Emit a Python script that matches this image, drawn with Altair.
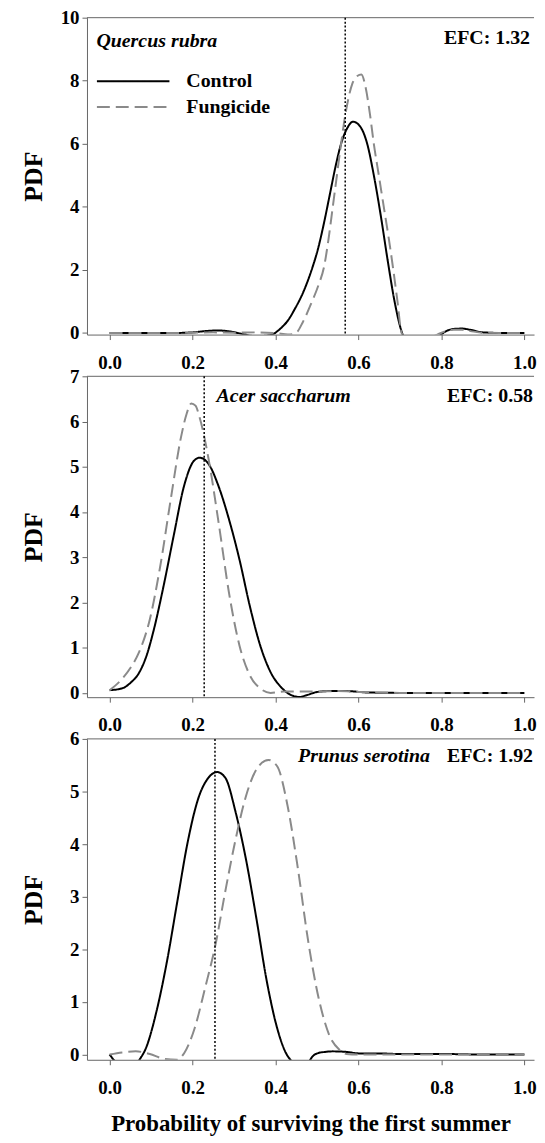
import altair as alt
import pandas as pd

FONT = "Times New Roman, Liberation Serif, DejaVu Serif, serif"

# ---------------- data ----------------
SERIES = ["Control", "Fungicide"]
X_TICKS = [0.0, 0.2, 0.4, 0.6, 0.8, 1.0]

# Quercus rubra
qr_x_ctrl = [0.0, 0.05, 0.10, 0.15, 0.20, 0.23, 0.26, 0.29, 0.32, 0.35, 0.38, 0.395, 0.41, 0.43, 0.446,
             0.467, 0.487, 0.503, 0.517, 0.531, 0.545, 0.558, 0.571, 0.587, 0.604, 0.621, 0.637, 0.654,
             0.671, 0.687, 0.704, 0.72, 0.76, 0.79, 0.81, 0.83, 0.85, 0.87, 0.90, 0.95, 1.0]
qr_y_ctrl = [0.0, 0.0, 0.0, 0.0, 0.02, 0.06, 0.08, 0.05, -0.03, -0.1, -0.08, -0.03, 0.12, 0.4, 0.75,
             1.3, 2.0, 2.7, 3.5, 4.4, 5.3, 6.0, 6.45, 6.7, 6.55, 6.0, 5.0, 3.7,
             2.25, 1.0, 0.05, -0.3, -0.4, -0.15, 0.05, 0.13, 0.14, 0.1, 0.02, 0.0, 0.0]
qr_x_fung = [0.0, 0.05, 0.10, 0.15, 0.20, 0.25, 0.30, 0.35, 0.40, 0.43, 0.449, 0.466, 0.487, 0.503,
             0.517, 0.528, 0.538, 0.548, 0.558, 0.568, 0.585, 0.597, 0.607, 0.617, 0.627, 0.637, 0.649,
             0.661, 0.673, 0.684, 0.694, 0.704, 0.72, 0.76, 0.79, 0.81, 0.83, 0.85, 0.87, 0.90, 0.95, 1.0]
qr_y_fung = [0.0, 0.0, 0.0, 0.0, 0.01, 0.02, 0.01, 0.02, 0.0, -0.05, 0.0, 0.35, 0.97, 1.5,
             2.1, 3.0, 4.0, 5.0, 6.0, 6.9, 7.9, 8.15, 8.2, 7.8, 7.0, 6.0, 5.0,
             4.0, 3.0, 2.0, 1.0, 0.0, -0.2, -0.2, -0.05, 0.06, 0.1, 0.1, 0.06, 0.01, 0.0, 0.0]

# Acer saccharum
as_x_ctrl = [0.0, 0.03, 0.05, 0.072, 0.09, 0.105, 0.13, 0.155, 0.179, 0.204, 0.217, 0.238, 0.263, 0.288,
             0.313, 0.338, 0.363, 0.388, 0.413, 0.438, 0.458, 0.475, 0.50, 0.53, 0.57, 0.62, 0.70, 0.80,
             0.90, 1.0]
as_y_ctrl = [0.06, 0.1, 0.22, 0.46, 0.85, 1.34, 2.36, 3.5, 4.56, 5.14, 5.2, 5.07, 4.56, 3.83,
             2.95, 1.92, 1.05, 0.46, 0.13, -0.05, -0.09, -0.05, 0.02, 0.04, 0.04, 0.01, 0.0, 0.0,
             0.0, 0.0]
as_x_fung = [0.0, 0.03, 0.05, 0.071, 0.097, 0.122, 0.147, 0.172, 0.185, 0.197, 0.207, 0.217, 0.238,
             0.263, 0.288, 0.313, 0.338, 0.363, 0.388, 0.42, 0.46, 0.50, 0.55, 0.60, 0.70, 0.80, 0.90, 1.0]
as_y_fung = [0.06, 0.31, 0.55, 0.9, 1.63, 2.8, 4.26, 5.65, 6.15, 6.4, 6.35, 6.09, 5.2,
             3.75, 2.2, 1.05, 0.39, 0.1, 0.0, 0.03, 0.03, 0.03, 0.04, 0.02, 0.0, 0.0, 0.0, 0.0]

# Prunus serotina
ps_x_ctrl = [0.0, 0.012, 0.04, 0.06, 0.072, 0.088, 0.113, 0.138, 0.163, 0.188, 0.213, 0.238, 0.259,
             0.279, 0.304, 0.329, 0.354, 0.379, 0.404, 0.425, 0.436, 0.45, 0.465, 0.479, 0.49, 0.504,
             0.52, 0.538, 0.571, 0.604, 0.65, 0.7, 0.8, 0.9, 1.0]
ps_y_ctrl = [0.0, -0.12, -0.3, -0.25, -0.1, 0.13, 0.82, 1.76, 2.9, 4.03, 4.85, 5.26, 5.37,
             5.26, 4.6, 3.7, 2.58, 1.39, 0.5, 0.03, -0.1, -0.2, -0.25, -0.15, -0.03, 0.03,
             0.05, 0.06, 0.05, 0.02, 0.02, 0.01, 0.01, 0.0, 0.0]
ps_x_fung = [0.0, 0.03, 0.063, 0.097, 0.13, 0.162, 0.18, 0.205, 0.23, 0.255, 0.28, 0.304, 0.329, 0.354,
             0.383, 0.404, 0.429, 0.454, 0.479, 0.504, 0.529, 0.554, 0.571, 0.6, 0.7, 0.8, 0.9, 1.0]
ps_y_fung = [0.0, 0.04, 0.06, 0.01, -0.08, -0.1, 0.03, 0.5, 1.26, 2.08, 3.15, 4.1, 4.92, 5.42,
             5.6, 5.48, 4.73, 3.53, 2.14, 1.07, 0.38, 0.09, 0.01, 0.0, 0.0, 0.0, 0.0, 0.0]

species = ["Quercus rubra", "Acer saccharum", "Prunus serotina"]
efc_labels = ["EFC: 1.32", "EFC: 0.58", "EFC: 1.92"]
vlines = [0.568, 0.228, 0.254]
y_max = [10, 7, 6]
y_min = [-0.05, -0.095, -0.1]
y_ticks = [[0, 2, 4, 6, 8, 10], [0, 1, 2, 3, 4, 5, 6, 7], [0, 1, 2, 3, 4, 5, 6]]

# ---------------- layout ----------------
W = 450
X_DOMAIN = [-0.0546, 1.0232]
HEIGHTS = [319, 323, 323]
GRAY = "#8a8a8a"
FRAME = "#666666"
DASH = [13, 6]


def panel_df(xc, yc, xf, yf):
    rows = [{"x": a, "y": b, "series": SERIES[0]} for a, b in zip(xc, yc)]
    rows += [{"x": a, "y": b, "series": SERIES[1]} for a, b in zip(xf, yf)]
    return pd.DataFrame(rows)


def make_panel(i, df, species_pos, efc_pos, bottom_title=None, legend=False):
    h = HEIGHTS[i]
    xscale = alt.Scale(domain=X_DOMAIN, nice=False, zero=False)
    yscale = alt.Scale(domain=[y_min[i], y_max[i]], nice=False, zero=False)
    xaxis_kw = dict(values=X_TICKS, format=".1f", grid=False, tickSize=5, labelPadding=14,
                    labelFontSize=19)
    if bottom_title:
        xaxis = alt.Axis(title=bottom_title, titleFontSize=23, titleY=64, titleBaseline="middle",
                         **xaxis_kw)
    else:
        xaxis = alt.Axis(title=None, **xaxis_kw)
    yaxis = alt.Axis(values=y_ticks[i], format="d", grid=False, tickSize=5, labelPadding=3,
                     labelFontSize=19, title="PDF", titleFontSize=26, titleAngle=270,
                     titleX=-53.5, titleY=h / 2, titleBaseline="middle", titleAlign="center")

    lines = alt.Chart(df).mark_line(interpolate="monotone", clip=True, strokeWidth=2).encode(
        x=alt.X("x:Q", scale=xscale, axis=xaxis),
        y=alt.Y("y:Q", scale=yscale, axis=yaxis),
        color=alt.Color("series:N", scale=alt.Scale(domain=SERIES, range=["#000000", GRAY]),
                        legend=None),
        strokeDash=alt.StrokeDash("series:N", scale=alt.Scale(domain=SERIES, range=[[1, 0], DASH]),
                                  legend=None),
        detail="series:N",
    )
    # top frame line of the plot area
    top = alt.Chart(pd.DataFrame({"y": [y_max[i]]})).mark_rule(color=FRAME, strokeWidth=1).encode(
        y=alt.Y("y:Q", scale=yscale, axis=yaxis))
    vline = alt.Chart(pd.DataFrame({"x": [vlines[i]]})).mark_rule(
        color="black", strokeDash=[2, 2], strokeWidth=1.5
    ).encode(x=alt.X("x:Q", scale=xscale, axis=xaxis))

    sp = alt.Chart(pd.DataFrame({"t": [species[i]]})).mark_text(
        align="left", baseline="middle", font=FONT, fontSize=20, fontStyle="italic",
        fontWeight="bold", color="black"
    ).encode(x=alt.value(species_pos[0]), y=alt.value(species_pos[1]), text="t:N")
    ef = alt.Chart(pd.DataFrame({"t": [efc_labels[i]]})).mark_text(
        align="right", baseline="middle", font=FONT, fontSize=20, fontWeight="bold", color="black"
    ).encode(x=alt.value(efc_pos[0]), y=alt.value(efc_pos[1]), text="t:N")

    layers = [lines, top, vline, sp, ef]
    if legend:
        ly = [64, 90]
        for s, yy, col, dash in zip(SERIES, ly, ["#000000", GRAY], [[1, 0], DASH]):
            d = pd.DataFrame({"t": [s]})
            layers.append(
                alt.Chart(d).mark_rule(color=col, strokeWidth=2, strokeDash=dash).encode(
                    x=alt.value(10), x2=alt.value(83), y=alt.value(yy))
            )
            layers.append(
                alt.Chart(d).mark_text(align="left", baseline="middle", font=FONT, fontSize=20,
                                       fontWeight="bold", color="black").encode(
                    x=alt.value(100), y=alt.value(yy), text="t:N")
            )
    return alt.layer(*layers).properties(width=W, height=h)


p1 = make_panel(0, panel_df(qr_x_ctrl, qr_y_ctrl, qr_x_fung, qr_y_fung), (9.5, 23.5), (446, 20.5),
                legend=True)
p2 = make_panel(1, panel_df(as_x_ctrl, as_y_ctrl, as_x_fung, as_y_fung), (130.5, 20), (449, 20))
p3 = make_panel(2, panel_df(ps_x_ctrl, ps_y_ctrl, ps_x_fung, ps_y_fung), (212.5, 17), (449, 17),
                bottom_title="Probability of surviving the first summer")

chart = alt.vconcat(p1, p2, p3, spacing=42, bounds="flush").properties(
    padding={"left": 12.5, "top": -3, "right": 0, "bottom": 0}
).configure_view(stroke=None).configure_axis(
    domainColor=FRAME, tickColor=FRAME, domainWidth=1, tickWidth=1,
    labelFont=FONT, labelFontWeight="bold", labelColor="black",
    titleFont=FONT, titleFontWeight="bold", titleColor="black",
)

chart.save("out.html", embed_options={"renderer": "svg", "actions": False})
